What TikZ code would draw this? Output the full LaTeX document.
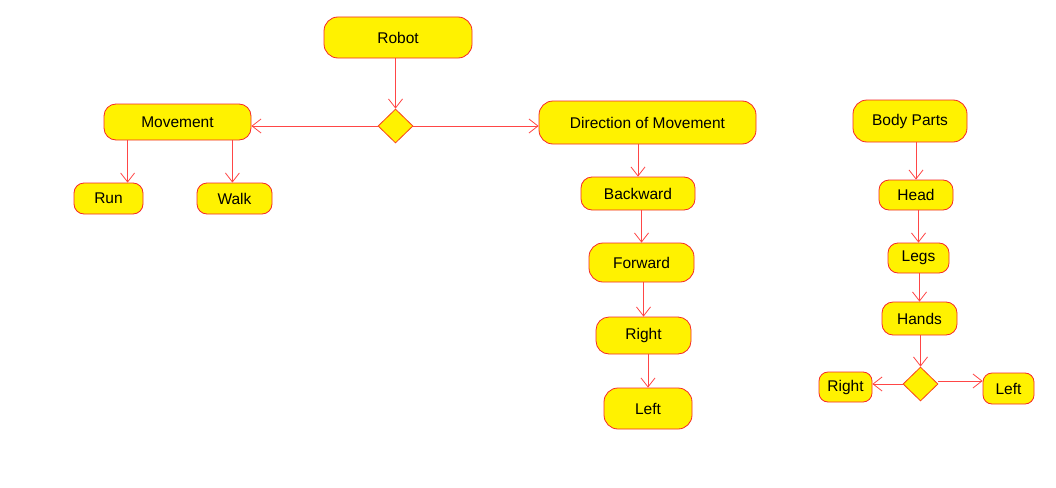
\documentclass[tikz,border=0pt]{standalone}
\usepackage{fontspec}
\setmainfont{Liberation Sans}
\usetikzlibrary{shapes.geometric, arrows.meta}
\definecolor{boxred}{RGB}{245,40,40}
\definecolor{linered}{RGB}{255,70,70}

\begin{document}
\begin{tikzpicture}[x=1pt, y=-1pt,
	activity/.style={draw=boxred, fill=yellow, rounded corners=14pt, inner sep=0pt, font=\fontsize{15.5}{17}\selectfont, line width=0.8pt},
	actsize/.style 2 args={minimum width=#1pt, minimum height=#2pt},
	choice/.style={diamond, draw=boxred!70!orange, fill=yellow, inner sep=0pt, minimum width=35pt, minimum height=34pt, line width=0.8pt},
	flow/.style={draw=linered, line width=0.8pt, -{Straight Barb[length=9pt, width=14pt]}}]
	\useasboundingbox (0, 0) rectangle (1056, 487);

	\node[activity, actsize={148}{41}] (robot) at (398, 37.5) {Robot};
	\node[choice] (split) at (395.5, 126) {};
	\node[activity, actsize={147}{36}, rounded corners=12pt] (movement) at (177.5, 122) {Movement};
	\node[activity, actsize={69}{31}, rounded corners=10pt] (run) at (108.5, 198.5) {Run};
	\node[activity, actsize={75}{31}, rounded corners=10pt] (walk) at (234.5, 198.5) {Walk};

	\node[activity, actsize={217}{43}] (direction) at (647.5, 122.5) {Direction of Movement};
	\node[activity, actsize={114}{33}, rounded corners=11pt] (backward) at (638, 193.5) {Backward};
	\node[activity, actsize={105}{39}] (forward) at (641.5, 262.5) {Forward};
	\node[activity, actsize={95}{37}, rounded corners=13pt] (right) at (643.5, 335.5) {Right};
	\node[activity, actsize={88}{41}] (left) at (648, 408.5) {Left};

	\node[activity, actsize={114}{42}] (body) at (910, 121) {Body Parts};
	\node[activity, actsize={74}{30}, rounded corners=10pt] (head) at (916, 195) {Head};
	\node[activity, actsize={61}{30}, rounded corners=10pt] (legs) at (918.5, 258) {Legs};
	\node[activity, actsize={75}{33}, rounded corners=11pt] (hands) at (919.5, 318.5) {Hands};
	\node[choice] (handsplit) at (920.5, 384) {};
	\node[activity, actsize={53}{30}, rounded corners=9pt] (handright) at (845.5, 387) {Right};
	\node[activity, actsize={51}{31}, rounded corners=9pt] (handleft) at (1008.5, 388.5) {Left};

	\draw[flow] (split.north |- robot.south) -- (split.north);
	\draw[flow] (split.west) -- (split.west -| movement.east);
	\draw[flow] (split.east) -- (split.east -| direction.west);
	\draw[flow] ([xshift=24pt]movement.south west) -- ([xshift=24pt]movement.south west |- run.north);
	\draw[flow] ([xshift=-19pt]movement.south east) -- ([xshift=-19pt]movement.south east |- walk.north);

	\draw[flow] (backward.north |- direction.south) -- (backward.north);
	\draw[flow] (forward.north |- backward.south) -- (forward.north);
	\draw[flow] (right.north |- forward.south) -- (right.north);
	\draw[flow] (left.north |- right.south) -- (left.north);

	\draw[flow] (head.north |- body.south) -- (head.north);
	\draw[flow] (legs.north |- head.south) -- (legs.north);
	\draw[flow] (hands.north |- legs.south) -- (hands.north);
	\draw[flow] (handsplit.north |- hands.south) -- (handsplit.north);
	\draw[flow] (handsplit.west) -- (handsplit.west -| handright.east);
	\draw[flow] ([yshift=3pt]handsplit.east) -- ([yshift=3pt]handsplit.east -| handleft.west);
\end{tikzpicture}
\end{document}
